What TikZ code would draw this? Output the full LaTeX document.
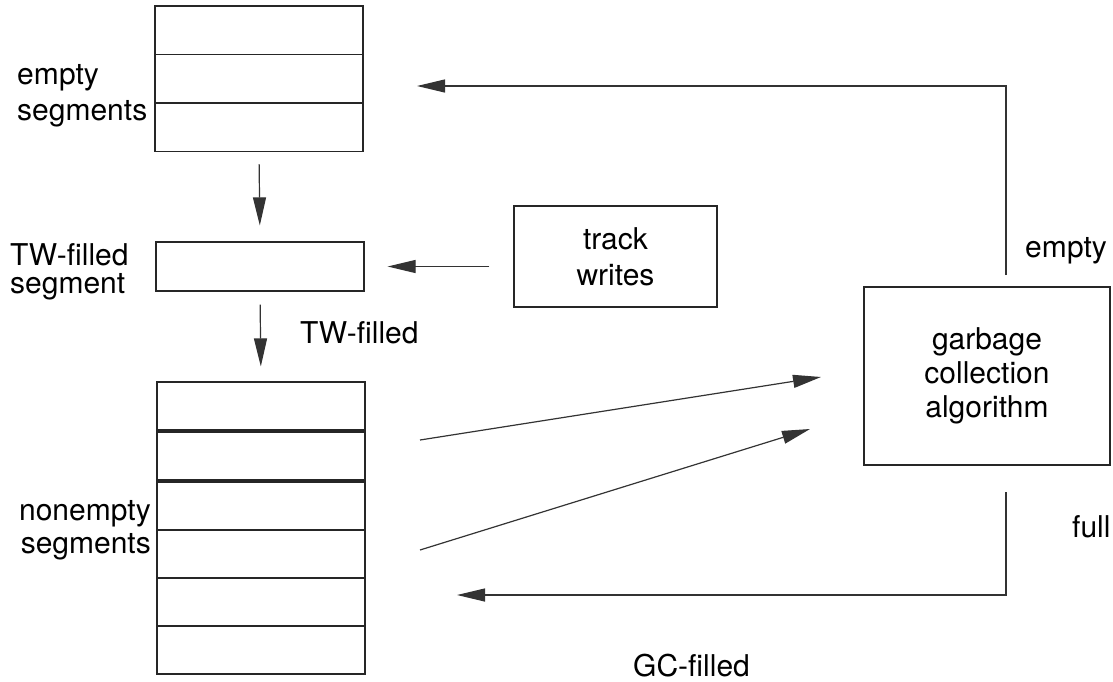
\documentclass[tikz,border=0pt]{standalone}
\usepackage{fontspec}
\setmainfont{TeX Gyre Heros}
\usetikzlibrary{arrows.meta}

\begin{document}
\begin{tikzpicture}[x=1pt, y=-1pt,
  seg/.style={draw=black!85, line width=1.2pt, minimum width=208pt, minimum height=48pt, inner sep=0pt},
  blk/.style={draw=black!85, line width=1.2pt, inner sep=0pt, align=center, font=\fontsize{30}{36}\selectfont},
  lbl/.style={inner sep=0pt, font=\fontsize{30}{36}\selectfont},
  flow/.style={draw=black!80, line width=1.2pt, -{Triangle[length=28pt,width=13pt]}}]
\useasboundingbox (0,0) rectangle (1113,681);

\foreach \i/\y in {1/30.25, 2/78.75, 3/127.25}
    \node[seg, minimum height=48.5pt] (e\i) at (259,\y) {};
\node[seg, minimum height=49pt] (tw) at (260,266.5) {};
\foreach \i/\y in {1/406, 2/456, 3/506, 4/554, 5/602, 6/650}
    \node[seg] (n\i) at (261,\y) {};

\node[blk, minimum width=203pt, minimum height=101pt] (track) at (615.5,256.5) {track\\writes};
\node[blk, minimum width=246pt, minimum height=178pt] (gc) at (987,376) {garbage\\[-2pt]collection\\[-2pt]algorithm};

\node[lbl, align=left, anchor=west] (emptylbl) at (17,96) {empty\\segments};
\node[lbl, align=left, anchor=west] (twlbl) at (10,272) {TW-filled\\[-8pt]segment};
\node[lbl, align=right, anchor=east] (nonlbl) at (151,530) {nonempty\\[-3pt]segments};
\node[lbl, anchor=base west] (twfilled) at (300,343) {TW-filled};
\node[lbl, anchor=base west] (emptyout) at (1025,257) {empty};
\node[lbl, anchor=base west] (fullout) at (1072,537) {full};
\node[lbl, anchor=base west] (gcfilled) at (633,676) {GC-filled};

\coordinate (topout) at (1006,275);
\coordinate (topin) at (417,86);
\coordinate (botout) at (1006,492);
\coordinate (botin) at (457,595);
\coordinate (up1) at (420,440);
\coordinate (up2) at (420,550);
\coordinate (gcin1) at (821,377);
\coordinate (gcin2) at (810,429);

\draw[flow, shorten <=12pt, shorten >=16pt] (e3.south) -- (tw.north);
\draw[flow, shorten <=13pt, shorten >=15pt] (tw.south) -- (n1.north);
\draw[flow, shorten <=24pt, shorten >=23pt] (track.west |- tw.east) -- (tw.east);
\draw[flow] (up1) -- (gcin1);
\draw[flow] (up2) -- (gcin2);
\draw[flow] (topout) |- (topin);
\draw[flow] (botout) |- (botin);

\end{tikzpicture}
\end{document}
